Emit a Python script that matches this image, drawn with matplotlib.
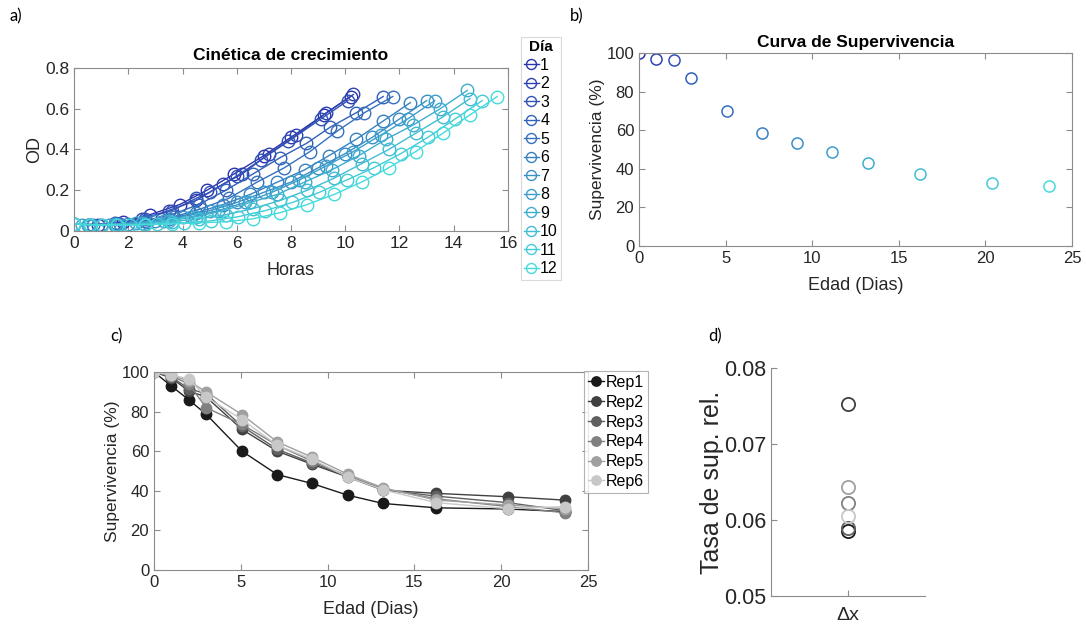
import numpy as np
import matplotlib
matplotlib.use("Agg")
import matplotlib.pyplot as plt

plt.rcParams["font.family"] = ["Liberation Sans", "DejaVu Sans"]

# ---- data ----
# a) growth kinetics, one series per day (hours, OD)
day_labels = ["1", "2", "3", "4", "5", "6", "7", "8", "9", "10", "11", "12"]
hours = [
    [0, 0.9, 1.8, 2.8, 3.9, 4.9, 5.9, 7.0, 8.0, 9.2, 10.2],
    [0.5, 1.5, 2.5, 3.5, 4.5, 5.5, 6.2, 7.2, 8.2, 9.3, 10.3],
    [0.6, 1.6, 2.6, 3.6, 4.5, 5.0, 6.0, 6.9, 7.9, 9.1, 10.1],
    [0.6, 1.6, 2.6, 3.6, 4.6, 5.6, 6.6, 7.6, 8.57, 9.45, 10.4, 11.4],
    [0.7, 1.7, 2.7, 3.7, 4.7, 5.7, 6.75, 7.75, 8.7, 9.7, 10.7, 11.75],
    [0, 1.5, 2.5, 3.5, 4.5, 5.5, 6.5, 7.5, 8.5, 9.4, 10.4, 11.4, 12.4],
    [1.0, 2.0, 3.0, 4.0, 5.0, 6.0, 7.0, 8.0, 9.0, 10.0, 11.0, 12.0, 13.0],
    [0.3, 1.3, 2.3, 3.3, 4.3, 5.3, 6.3, 7.3, 8.3, 9.3, 10.3, 11.3, 12.3, 13.3],
    [0, 0.5, 1.5, 2.5, 3.5, 4.5, 5.5, 6.5, 7.5, 8.5, 9.5, 10.5, 11.5, 12.5, 13.5, 14.5],
    [0.6, 1.6, 2.6, 3.6, 4.6, 5.6, 6.6, 7.6, 8.6, 9.6, 10.6, 11.6, 12.6, 13.6, 14.6],
    [0, 1.05, 2.05, 3.05, 4.05, 5.05, 6.05, 7.05, 8.05, 9.05, 10.05, 11.05, 12.05, 13.05, 14.05, 15.05],
    [0, 0.6, 1.6, 2.6, 3.6, 4.6, 5.6, 6.6, 7.6, 8.6, 9.6, 10.6, 11.6, 12.6, 13.6, 14.6, 15.6],
]
od = [
    [0.035, 0.03, 0.045, 0.08, 0.13, 0.2, 0.28, 0.37, 0.46, 0.57, 0.66],
    [0.03, 0.04, 0.06, 0.1, 0.15, 0.23, 0.28, 0.38, 0.47, 0.58, 0.67],
    [0.03, 0.035, 0.06, 0.1, 0.16, 0.19, 0.27, 0.35, 0.44, 0.55, 0.64],
    [0.03, 0.035, 0.05, 0.08, 0.13, 0.2, 0.28, 0.36, 0.43, 0.51, 0.58, 0.66],
    [0.03, 0.035, 0.045, 0.07, 0.11, 0.16, 0.24, 0.31, 0.39, 0.49, 0.58, 0.66],
    [0.035, 0.03, 0.04, 0.06, 0.09, 0.13, 0.18, 0.24, 0.3, 0.37, 0.45, 0.54, 0.63],
    [0.03, 0.035, 0.05, 0.07, 0.1, 0.14, 0.19, 0.24, 0.31, 0.38, 0.46, 0.55, 0.64],
    [0.03, 0.03, 0.04, 0.05, 0.07, 0.1, 0.14, 0.19, 0.25, 0.32, 0.39, 0.47, 0.55, 0.64],
    [0.035, 0.03, 0.035, 0.04, 0.05, 0.07, 0.1, 0.14, 0.18, 0.24, 0.3, 0.37, 0.45, 0.52, 0.6, 0.69],
    [0.03, 0.03, 0.035, 0.045, 0.06, 0.08, 0.11, 0.15, 0.2, 0.26, 0.33, 0.4, 0.48, 0.56, 0.65],
    [0.035, 0.03, 0.03, 0.035, 0.04, 0.05, 0.07, 0.1, 0.14, 0.19, 0.25, 0.31, 0.38, 0.46, 0.55, 0.64],
    [0.035, 0.03, 0.03, 0.03, 0.035, 0.04, 0.045, 0.06, 0.09, 0.13, 0.18, 0.24, 0.31, 0.39, 0.48, 0.57, 0.66],
]

# b) / c) survival vs age
edad = [0, 1, 2, 3, 5.07, 7.1, 9.1, 11.15, 13.2, 16.25, 20.4, 23.65]
superv = [100, 96.9, 96.2, 87, 70.2, 58.8, 53.2, 48.9, 42.8, 37.4, 32.8, 31.0]

rep_labels = ["Rep1", "Rep2", "Rep3", "Rep4", "Rep5", "Rep6"]
rep_superv = [
    [100, 92.9, 86, 78.7, 60, 48.2, 43.7, 37.8, 33.6, 31.4, 30.8, 29.5],
    [100, 97, 90.4, 87.4, 71, 60, 53.4, 47, 40.3, 38.7, 37, 35.3],
    [100, 97.5, 91.6, 89, 72.6, 61, 54, 47.5, 40.5, 37.3, 34, 30],
    [100, 98, 94, 82, 73.5, 63, 55, 47.5, 41, 36, 32, 28.9],
    [100, 98.3, 95.5, 90, 78.5, 64.7, 57, 48.4, 41.5, 35.3, 32.8, 31],
    [100, 98.5, 96.5, 87.4, 76, 63, 56, 47, 40.5, 34, 31, 32],
]

# d) relative survival rate per replicate
tasa = [0.0585, 0.0752, 0.0589, 0.0622, 0.0643, 0.0605]

# ---- style ----
W, H = 1086, 625
spine_col = "#8c8c8c"
text_col = "#262626"
c0 = np.array([0.17, 0.2, 0.68])
c1 = np.array([0.27, 0.86, 0.86])
day_colors = [tuple(c0 + (c1 - c0) * f) for f in np.linspace(0, 1, len(day_labels))]
rep_colors = ["#1a1a1a", "#404040", "#606060", "#808080", "#a0a0a0", "#c8c8c8"]

fig = plt.figure(figsize=(W / 100, H / 100), dpi=100)


def px_axes(l, t, r, b):
    return fig.add_axes([l / W, 1 - b / H, (r - l) / W, (b - t) / H])


def matlab_style(ax, size, box=True):
    for s in ax.spines.values():
        s.set_color(spine_col)
        s.set_linewidth(0.8)
    ax.tick_params(direction="in", length=4, width=0.8, colors=spine_col,
                   labelcolor=text_col, labelsize=size, top=box, right=box)
    if not box:
        ax.spines["top"].set_visible(False)
        ax.spines["right"].set_visible(False)


# a)
ax_a = px_axes(74, 68, 508, 231)
for t, y, c, lab in zip(hours, od, day_colors, day_labels):
    ax_a.plot(t, y, "-o", color=c, mfc="none", ms=9, mew=1, lw=1, label=lab)
ax_a.set_xlim(0, 16)
ax_a.set_ylim(0, 0.8)
ax_a.set_xticks(range(0, 17, 2))
ax_a.set_yticks([0, 0.2, 0.4, 0.6, 0.8])
ax_a.set_yticklabels(["0", "0.2", "0.4", "0.6", "0.8"])
matlab_style(ax_a, 12.5)
ax_a.set_xlabel("Horas", fontsize=13, color=text_col, labelpad=8)
ax_a.set_ylabel("OD", fontsize=13, color=text_col, labelpad=1)
ax_a.set_title("Cinética de crecimiento", fontsize=12.5, fontweight="bold", pad=6)
leg_a = fig.legend(*ax_a.get_legend_handles_labels(), loc="upper left",
                   bbox_to_anchor=(521 / W, 1 - 37 / H), title="Día",
                   fontsize=11.5, title_fontproperties={"weight": "bold", "size": 11},
                   handlelength=0.9, handletextpad=0.1, labelspacing=0.22,
                   borderpad=0.2, borderaxespad=0, fancybox=False, markerscale=0.8)
leg_a.get_frame().set_edgecolor("#d0d0d0")
leg_a.get_frame().set_linewidth(0.8)

# b)
ax_b = px_axes(639, 53, 1072, 246)
for x, y, c in zip(edad, superv, day_colors):
    ax_b.plot(x, y, "o", color=c, mfc="none", ms=8, mew=1.1)
ax_b.set_xlim(0, 25)
ax_b.set_ylim(0, 100)
ax_b.set_xticks(range(0, 26, 5))
ax_b.set_yticks(range(0, 101, 20))
matlab_style(ax_b, 12)
ax_b.set_xlabel("Edad (Dias)", fontsize=13, color=text_col, labelpad=8)
ax_b.set_ylabel("Supervivencia (%)", fontsize=12.5, color=text_col, labelpad=1)
ax_b.set_title("Curva de Supervivencia", fontsize=12.5, fontweight="bold", pad=4)

# c)
ax_c = px_axes(154, 372, 588, 570)
for y, c, lab in zip(rep_superv, rep_colors, rep_labels):
    ax_c.plot(edad, y, "-o", color=c, mfc=c, mec=c, ms=7.5, lw=1, label=lab)
ax_c.set_xlim(0, 25)
ax_c.set_ylim(0, 100)
ax_c.set_xticks(range(0, 26, 5))
ax_c.set_yticks(range(0, 101, 20))
matlab_style(ax_c, 12)
ax_c.set_xlabel("Edad (Dias)", fontsize=13, color=text_col, labelpad=8)
ax_c.set_ylabel("Supervivencia (%)", fontsize=12.5, color=text_col, labelpad=1)
leg_c = fig.legend(*ax_c.get_legend_handles_labels(), loc="upper left",
                   bbox_to_anchor=(584 / W, 1 - 371 / H), fontsize=11.5,
                   handlelength=1.0, handletextpad=0.1, labelspacing=0.3,
                   borderpad=0.25, borderaxespad=0, fancybox=False, markerscale=0.9)
leg_c.get_frame().set_edgecolor("#a0a0a0")
leg_c.get_frame().set_linewidth(0.8)

# d)
ax_d = px_axes(771, 368, 925, 596)
for v, c in zip(tasa, rep_colors):
    ax_d.plot(1, v, "o", color=c, mfc="none", ms=9.5, mew=1.3)
ax_d.set_xlim(0, 2)
ax_d.set_ylim(0.05, 0.08)
ax_d.set_xticks([1])
ax_d.set_xticklabels(["Δx"])
ax_d.set_yticks([0.05, 0.06, 0.07, 0.08])
matlab_style(ax_d, 15.5, box=False)
ax_d.tick_params(axis="x", labelsize=14, pad=8)
ax_d.set_ylabel("Tasa de sup. rel.", fontsize=18, color=text_col, labelpad=0)

# panel letters
for x, y, s in [(10, 16, "a)"), (570, 16, "b)"), (110, 336, "c)"), (708, 336, "d)")]:
    fig.text(x / W, 1 - y / H, s, fontsize=12, family="Lato", va="center", ha="left")

fig.savefig("out.png", dpi=100)
